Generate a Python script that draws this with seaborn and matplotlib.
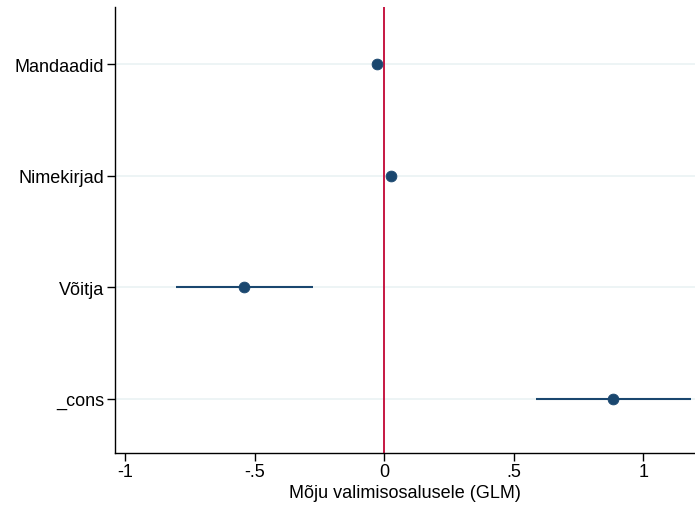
import matplotlib
matplotlib.use("Agg")
import matplotlib.pyplot as plt
import seaborn as sns
import pandas as pd

categories = ["Mandaadid", "Nimekirjad", "Võitja", "_cons"]
estimates = [-0.027, 0.027, -0.54, 0.884]
ci_low = [-0.033, 0.021, -0.803, 0.587]
ci_high = [-0.021, 0.033, -0.274, 1.185]
xticks = [-1, -0.5, 0, 0.5, 1]
xticklabels = ["-1", "-.5", "0", ".5", "1"]

df = pd.DataFrame({"var": categories, "est": estimates, "lo": ci_low, "hi": ci_high})

sns.set_theme(style="white")
plt.rcParams['font.family'] = ['Liberation Sans', 'DejaVu Sans']
plt.rcParams['text.color'] = 'black'
plt.rcParams['axes.labelcolor'] = 'black'
plt.rcParams['xtick.color'] = 'black'
plt.rcParams['ytick.color'] = 'black'

navy = "#1a476f"
fig = plt.figure(figsize=(6.95, 5.06), dpi=100)
ax = fig.add_axes([115/695, 1-454/506, 580/695, 446/506])

ypos = list(range(len(categories)))
for y in ypos:
    ax.axhline(y, color="#eaf2f3", lw=1.2, zorder=0)
ax.axvline(0, color="#c10534", lw=1.3, zorder=1)
ax.hlines(ypos, df["lo"], df["hi"], color=navy, lw=1.5, zorder=2)
sns.scatterplot(data=df, x="est", y="var", ax=ax, color=navy, s=60, edgecolor=navy, zorder=3, legend=False)

ax.set_xlim(-1.04, 1.2)
ax.set_ylim(3.488, -0.512)
ax.set_yticks(ypos)
ax.set_yticklabels(categories)
ax.set_xticks(xticks)
ax.set_xticklabels(xticklabels)
ax.set_xlabel("Mõju valimisosalusele (GLM)", fontsize=13, labelpad=3, color="black")
ax.set_ylabel("")
ax.tick_params(axis="both", labelsize=13, length=6, width=1, colors="black", direction="out", pad=2)
ax.tick_params(axis="x", bottom=True, pad=1)
ax.tick_params(axis="y", left=True)
for s in ["top", "right"]:
    ax.spines[s].set_visible(False)
for s in ["left", "bottom"]:
    ax.spines[s].set_color("black")
    ax.spines[s].set_linewidth(1)
ax.set_facecolor("white")
fig.savefig("out.png", dpi=100, facecolor="white")
